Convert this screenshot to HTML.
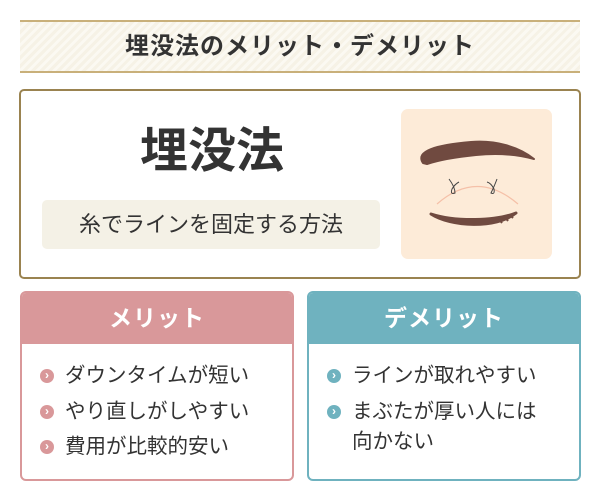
<!DOCTYPE html>
<html><head><meta charset="utf-8"><style>
*{margin:0;padding:0;box-sizing:border-box}
body{width:600px;height:500px;background:#fff;font-family:"Liberation Sans","Noto Sans CJK JP",sans-serif;color:#333;position:relative;overflow:hidden}
.abs{position:absolute}
.title{left:20px;top:20px;width:560px;height:53px;border-top:2px solid #c9b07a;border-bottom:2px solid #c9b07a;
background:repeating-linear-gradient(135deg,#f6f2e6 0 3px,#fbf9f2 3px 6px);text-align:center;font-size:24px;font-weight:bold;line-height:49px;letter-spacing:1px}
.main{left:19px;top:89px;width:562px;height:190px;border:2px solid #9a8350;border-radius:5px}
.big{left:40px;top:122px;width:344px;text-align:center;font-size:48px;font-weight:bold;line-height:60px}
.pill{left:42px;top:200px;width:338px;height:49px;background:#f4f1e6;border-radius:5px;text-align:center;font-size:22px;line-height:49px}
.ill{left:401px;top:109px;width:151px;height:150px;background:#fdebd8;border-radius:7px}
.box{top:291px;width:274px;height:190px;border:2px solid;border-radius:6px;overflow:hidden}
.hd{height:51px;color:#fff;font-size:23px;font-weight:bold;text-align:center;line-height:50px;letter-spacing:1px}
.it{position:absolute;left:43px;font-size:20.5px;line-height:24px}
.b{position:absolute;left:18px;width:14px;height:14px;border-radius:50%;color:#fff;font-size:12px;font-weight:bold;text-align:center;line-height:13px}
</style></head><body>
<div class="abs title">埋没法のメリット・デメリット</div>
<div class="abs main"></div>
<div class="abs big">埋没法</div>
<div class="abs pill">糸でラインを固定する方法</div>
<div class="abs ill">
<svg width="151" height="150" viewBox="0 0 151 150">
<path d="M22 54 C14 42 35 36 70 33 C95 31 118 38 133 50 C115 45 95 44 75 46 C55 48 38 51 26 55 Z" fill="#704a40" stroke="#704a40" stroke-width="2" stroke-linejoin="round"/>
<path d="M36 95 Q76 60 117 95" fill="none" stroke="#f5c0a8" stroke-width="1.2"/>
<path d="M30 105 C50 118 95 120 115 104 C95 112 55 113 30 105 Z" fill="#704a40" stroke="#704a40" stroke-width="3" stroke-linejoin="round"/>
<path d="M98 110 l3 4 M104 108 l3 4 M109 106 l3 3" stroke="#704a40" stroke-width="2"/>
<path d="M48 70 q6 8 6 14 q-5 2 -3 -4 q3 -5 7 -7" fill="none" stroke="#444" stroke-width="1"/>
<path d="M96 70 q-3 8 -6 14 q4 2 3 -4 q-3 -6 -7 -7" fill="none" stroke="#444" stroke-width="1"/>
</svg></div>

<div class="abs box" style="left:20px;border-color:#d9989a">
<div class="hd" style="background:#d9989a">メリット</div>
<div class="b" style="top:76px;background:#d9989a">›</div><div class="it" style="top:71px">ダウンタイムが短い</div>
<div class="b" style="top:112px;background:#d9989a">›</div><div class="it" style="top:107px">やり直しがしやすい</div>
<div class="b" style="top:147px;background:#d9989a">›</div><div class="it" style="top:142px">費用が比較的安い</div>
</div>
<div class="abs box" style="left:307px;border-color:#6fb2bf">
<div class="hd" style="background:#6fb2bf">デメリット</div>
<div class="b" style="top:76px;background:#6fb2bf">›</div><div class="it" style="top:71px">ラインが取れやすい</div>
<div class="b" style="top:112px;background:#6fb2bf">›</div><div class="it" style="top:104px;line-height:30px">まぶたが厚い人には<br>向かない</div>
</div>
</body></html>
